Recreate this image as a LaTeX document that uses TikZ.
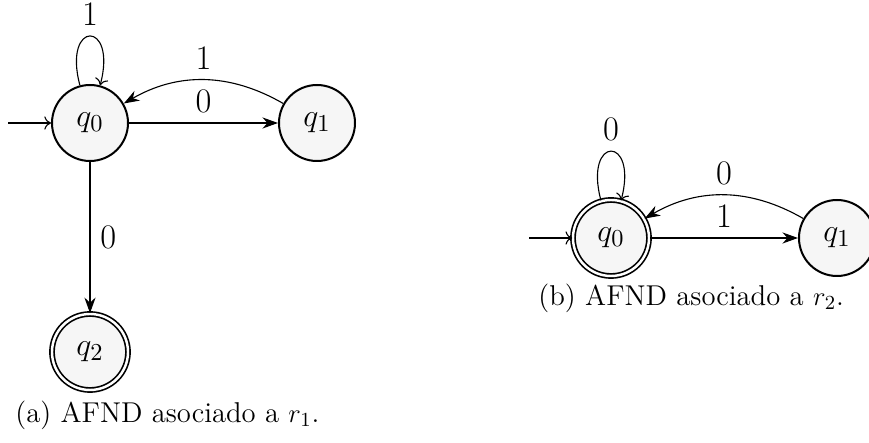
\documentclass[tikz,border=0pt]{standalone}
\usetikzlibrary{arrows.meta}
\newcommand{\lblfont}{\fontsize{15.5}{18}\selectfont}
\newcommand{\capfont}{\fontsize{12.9}{15}\selectfont}
\begin{document}
\begin{tikzpicture}[x=0.45pt,y=0.45pt,
  statenode/.style={circle,draw,fill=gray!7,line width=0.9pt,minimum size=34.2pt,inner sep=0pt,font=\lblfont},
  acceptnode/.style={statenode,double,line width=0.75pt,double distance=1.1pt},
  trans/.style={-{Stealth[length=7pt,width=5pt]},line width=0.5pt},
  loopedge/.style={-{To[length=3pt,width=6pt]},line width=0.5pt},
  lbl/.style={font=\lblfont,inner sep=4.4pt},
  captext/.style={font=\capfont,inner sep=0pt,anchor=base west}]
\useasboundingbox (0,0) rectangle (869,-443);
% (a)
\node[statenode] (a0) at (90,-123) {$q_0$};
\node[statenode] (a1) at (317,-123) {$q_1$};
\node[acceptnode] (a2) at (90,-352) {$q_2$};
\coordinate (ai) at (8,-123);
\draw[loopedge] (ai) -- (a0);
\draw[trans] (a0) -- node[lbl,above] {0} (a1);
\draw[trans] (a1) to[bend right=30] node[lbl,above] {1} (a0);
\draw[trans] (a0) -- node[lbl,right] {0} (a2);
\draw[loopedge] (a0.105) .. controls +(105:68) and +(75:68) .. node[lbl,above] {1} (a0.75);
\node[captext] (capa) at (15,-423) {(a) AFND asociado a $r_1$.};
% (b)
\node[acceptnode] (b0) at (611,-238) {$q_0$};
\node[statenode] (b1) at (837,-238) {$q_1$};
\coordinate (bi) at (529,-238);
\draw[loopedge] (bi) -- (b0);
\draw[trans] (b0) -- node[lbl,above] {1} (b1);
\draw[trans] (b1) to[bend right=30] node[lbl,above] {0} (b0);
\draw[loopedge] (b0.105) .. controls +(105:68) and +(75:68) .. node[lbl,above] {0} (b0.75);
\node[captext] (capb) at (538,-306) {(b) AFND asociado a $r_2$.};
\end{tikzpicture}
\end{document}
